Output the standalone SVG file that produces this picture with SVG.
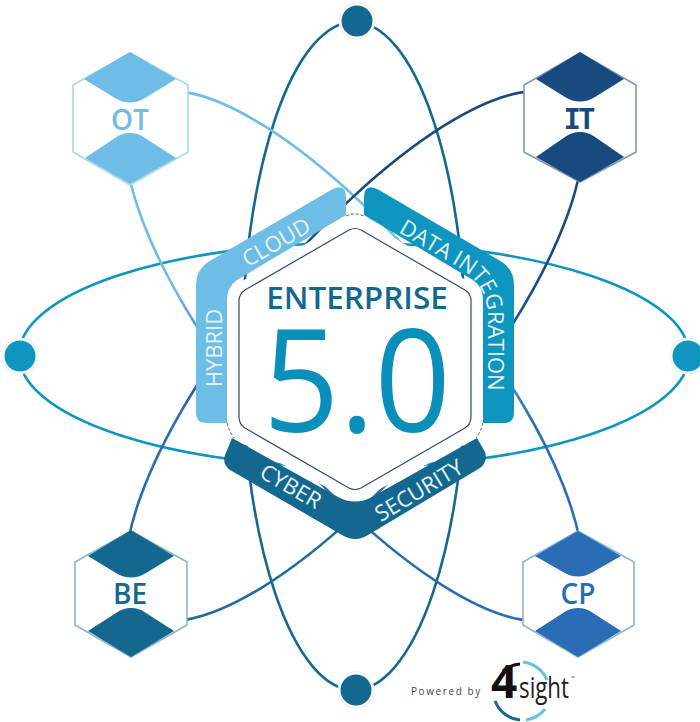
<svg xmlns="http://www.w3.org/2000/svg" width="700" height="722" viewBox="0 0 700 722">
<style>
.f{font-family:"Open Sans","Liberation Sans",sans-serif}
.c{fill:none;stroke-width:2.6}
.b{fill:#e6f4fa;font-size:22px}
.l{font-size:28px;font-weight:600;text-anchor:middle}
.h{fill:#fff;stroke-width:1.6}
.r{fill:#fff;stroke:#dde8ee;stroke-width:.8}
</style>
<defs>
<linearGradient id="g1" gradientUnits="userSpaceOnUse" x1="130" y1="100" x2="578" y2="610"><stop offset="0.45" stop-color="#6dbde6"/><stop offset="0.55" stop-color="#2a6db5"/></linearGradient>
<linearGradient id="g2" gradientUnits="userSpaceOnUse" x1="578" y1="100" x2="130" y2="610"><stop offset="0.45" stop-color="#1a4a80"/><stop offset="0.55" stop-color="#2f6db5"/><stop offset="1" stop-color="#14688f"/></linearGradient>
</defs>
<g id="connectors">
<ellipse class="c" cx="354" cy="356" rx="112" ry="334" stroke="#14688f"/>
<ellipse class="c" cx="354" cy="355" rx="335" ry="112" stroke="#0e96c0"/>
<ellipse class="c" cx="354" cy="356" rx="332" ry="110" transform="rotate(50.3 354 356)" stroke="url(#g1)"/>
<ellipse class="c" cx="354" cy="356" rx="332" ry="110" transform="rotate(-50.3 354 356)" stroke="url(#g2)"/>
</g>
<g id="orbit-top"><circle class="r" cx="357" cy="21" r="18"/><circle cx="357" cy="21" r="15.5" fill="#14688f"/></g>
<g id="orbit-bottom"><circle class="r" cx="356" cy="690" r="18"/><circle cx="356" cy="690" r="15.5" fill="#14688f"/></g>
<g id="orbit-left"><circle class="r" cx="20" cy="356" r="18"/><circle cx="20" cy="356" r="15.5" fill="#0e96c0"/></g>
<g id="orbit-right"><circle class="r" cx="688" cy="356" r="18"/><circle cx="688" cy="356" r="15.5" fill="#0e96c0"/></g>
<g id="node-ot">
<polygon class="h" points="130,53 188,85 188,152 130,185 73,152 73,85" stroke="#a9d8f1" stroke-linejoin="round"/>
<path d="M130 52L176 79L145 98Q130 107 115 98L84 79Z M130 133Q122 133 115 138L85 158L130 184L176 158L145 138Q138 133 130 133Z" fill="#6dbde6"/>
<text class="f l" x="130" y="130" fill="#6dbde6">OT</text>
</g>
<g id="node-it">
<polygon class="h" points="580,53 636,85 636,152 580,182 524,152 524,85" stroke="#7d97b8" stroke-linejoin="round"/>
<path d="M580 52L624 79L595 97Q580 106 565 97L536 79Z M580 132Q572 132 565 137L536 157L580 182L624 157L595 137Q588 132 580 132Z" fill="#184a7f"/>
<text x="578" y="129" text-anchor="middle" font-size="29" font-weight="700" letter-spacing="-3" style="font-family:'DejaVu Sans Mono',monospace" fill="#184a7f">IT</text>
</g>
<g id="node-be">
<polygon class="h" points="131,531 187,562 187,625 131,657 75,625 75,562" stroke="#8ab7cd" stroke-linejoin="round"/>
<path d="M131 530L174 556L146 573Q131 582 116 573L88 556Z M131 608Q123 608 116 613L88 631L131 657L174 631L146 613Q139 608 131 608Z" fill="#14688f"/>
<text class="f l" x="130" y="604" fill="#14688f">BE</text>
</g>
<g id="node-cp">
<polygon class="h" points="578,531 634,562 634,625 578,657 523,625 523,562" stroke="#8fb4da" stroke-linejoin="round"/>
<path d="M578 531L621 556L593 572Q578 581 563 572L535 556Z M578 608Q570 608 563 613L535 631L578 657L621 631L593 613Q586 608 578 608Z" fill="#2a6db5"/>
<text class="f l" x="578" y="604" fill="#2a6db5">CP</text>
</g>
<g id="hub">
<polygon points="355,215 483,290 483,425 477,438 355,502 232,438 227,425 227,290" fill="#fff"/>
<path d="M346 216Q355 212 364 216M227 423Q229 431 234 438M483 423Q481 431 476 438" fill="none" stroke="#555" stroke-width="1" stroke-dasharray="3 2"/>
<path d="M346 198L346 215L237 280Q227 287 227 300L227 423L206 423Q196 423 196 413L196 285Q196 270 208 262L331 190Q346 182 346 198Z" fill="#6dbde6"/>
<path d="M364 198L364 215L473 280Q483 287 483 300L483 423L504 423Q514 423 514 413L514 285Q514 270 502 262L379 190Q364 182 364 198Z" fill="#0e96c0"/>
<path d="M232 438L338 497Q355 506 372 497L477 438L485 452Q488 462 480 468L368 535Q355 543 342 535L230 470Q222 464 225 455Z" fill="#14688f"/>
<path id="di" d="M398 232L458 267Q488 284 488 318L488 402" fill="none"/>
<text class="f b" transform="rotate(-90 222 348)" x="222" y="348" text-anchor="middle">HYBRID</text>
<text class="f b" transform="rotate(-30 280 249)" x="280" y="249" text-anchor="middle">CLOUD</text>
<text class="f b"><textPath href="#di">DATA INTEGRATION</textPath></text>
<text class="f b" transform="rotate(30 287 493)" x="287" y="493" text-anchor="middle">CYBER</text>
<text class="f b" transform="rotate(-31 423 497)" x="423" y="497" text-anchor="middle">SECURITY</text>
<path d="M349 230Q355 227 361 230L465 290Q471 294 471 301L471 417Q471 424 465 428L361 488Q355 491 349 488L245 428Q239 424 239 417L239 301Q239 294 245 290Z" fill="#fff" stroke="#33496f" stroke-width="1.2"/>
<text class="f" x="357" y="309" text-anchor="middle" font-size="31.5" font-weight="600" fill="#14688f">ENTERPRISE</text>
<text class="f" x="263" y="432" textLength="188" lengthAdjust="spacingAndGlyphs" font-size="143" fill="#0a8fbb">5.0</text>
</g>
<g id="logo">
<text class="f" x="411" y="695" font-size="10" letter-spacing="1.6" fill="#444">Powered by</text>
<text class="f" x="491" y="698" font-size="46" font-weight="700" fill="#111">4</text>
<text class="f" x="519" y="698" font-size="29" textLength="50" lengthAdjust="spacingAndGlyphs" fill="#222">sight</text>
<text class="f" x="571" y="680" font-size="5" fill="#444">™</text>
<path d="M503 671A30 30 0 0 1 520 664" fill="none" stroke="#111" stroke-width="3"/>
<path d="M523 662A30 30 0 0 1 547 680" fill="none" stroke="#6dbde6" stroke-width="3"/>
<path d="M495 701A30 30 0 0 0 520 720" fill="none" stroke="#14688f" stroke-width="3"/>
<path d="M526 720A30 30 0 0 0 545 709" fill="none" stroke="#6dbde6" stroke-width="3"/>
</g>
</svg>
